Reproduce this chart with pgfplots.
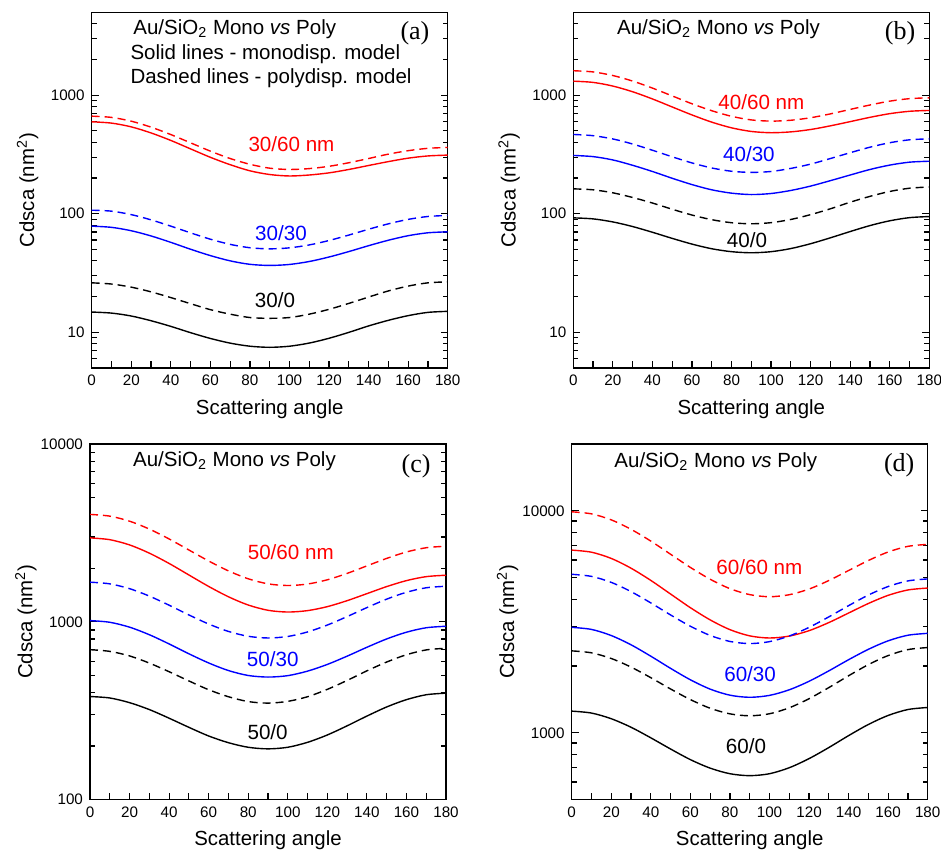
\documentclass[border=0pt]{standalone}
\usepackage{fontspec}
\setmainfont{Liberation Sans}
\newfontfamily\tnr{Liberation Serif}
\usepackage{pgfplots}
\pgfplotsset{compat=1.18}

\definecolor{cred}{RGB}{255,0,0}
\definecolor{cblue}{RGB}{0,0,255}

\pgfplotsset{
  mypanel/.style={
    scale only axis, width=178pt, height=177.8pt,
    anchor=north west,
    xmin=0, xmax=180, xtick={0,10,...,180},
    xticklabels={0,,20,,40,,60,,80,,100,,120,,140,,160,,180},
    xtick pos=lower, ytick pos=both, tick align=inside,
    major tick length=3.5pt, minor tick length=2.5pt,
    tick style={black, line width=0.6pt},
    axis line style={line width=0.7pt},
    ticklabel style={font=\fontsize{7.6}{9}\selectfont},
    xlabel={Scattering angle}, ylabel={Cdsca (nm\textsuperscript{2})},
    label style={font=\fontsize{10.2}{12}\selectfont},
    xlabel style={at={(axis description cs:0.5,-0.115)}, anchor=center},
    ylabel style={at={(axis description cs:-0.18,0.5)}, anchor=center},
  },
  mono/.style={line width=0.7pt, smooth},
  poly/.style={line width=0.7pt, smooth, dash pattern=on 4pt off 2.5pt},
}
\newcommand{\ttl}{Au/SiO\textsubscript{2} Mono \textit{vs} Poly}
\newcommand{\tfont}{\fontsize{10.25}{12}\selectfont}
\newcommand{\cfont}{\fontsize{10.3}{12}\selectfont}
\newcommand{\pfont}{\tnr\fontsize{13}{15}\selectfont}

\begin{document}
\begin{tikzpicture}
\useasboundingbox (0,0) rectangle (470.5pt,-425pt);

% ---- (a) ----
\begin{axis}[ymode=log, mypanel, at={(45.85pt,-6.15pt)},
  ymin=5, ymax=5000, ytick={10,100,1000}, yticklabels={10,100,1000},
  minor ytick={6,7,8,9,20,30,40,50,60,70,80,90,200,300,400,500,600,700,800,900,2000,3000,4000}]
\addplot[mono, cred] coordinates {(0,596) (10,581) (20,540) (30,480) (40,415) (50,352) (60,299) (70,259) (80,230) (90,214) (100,208) (110,212) (120,221) (130,236) (140,255) (150,275) (160,294) (170,307) (180,312)};
\addplot[poly, cred] coordinates {(0,665) (10,649) (20,603) (30,537) (40,465) (50,396) (60,337) (70,292) (80,261) (90,242) (100,236) (110,240) (120,251) (130,269) (140,292) (150,318) (160,340) (170,356) (180,362)};
\addplot[mono, cblue] coordinates {(0,78.5) (10,76.7) (20,71.8) (30,64.9) (40,57.3) (50,50.1) (60,44.3) (70,40.0) (80,37.4) (90,36.6) (100,37.3) (110,39.5) (120,43.1) (130,47.9) (140,53.7) (150,59.7) (160,65.2) (170,69.0) (180,70.3)};
\addplot[poly, cblue] coordinates {(0,107) (10,105) (20,98.2) (30,88.7) (40,78.5) (50,68.9) (60,60.9) (70,55.1) (80,51.6) (90,50.5) (100,51.5) (110,54.5) (120,59.4) (130,66.0) (140,73.9) (150,82.1) (160,89.5) (170,94.7) (180,96.6)};
\addplot[poly, black] coordinates {(0,26.1) (10,25.5) (20,24.0) (30,21.9) (40,19.6) (50,17.4) (60,15.5) (70,14.2) (80,13.3) (90,13.1) (100,13.3) (110,14.2) (120,15.6) (130,17.5) (140,19.8) (150,22.3) (160,24.5) (170,26.1) (180,26.6)};
\addplot[mono, black] coordinates {(0,14.8) (10,14.5) (20,13.7) (30,12.5) (40,11.2) (50,9.91) (60,8.86) (70,8.09) (80,7.62) (90,7.46) (100,7.62) (110,8.10) (120,8.89) (130,9.97) (140,11.3) (150,12.6) (160,13.8) (170,14.7) (180,15.0)};
\node[anchor=west, inner sep=0pt, font=\tfont] at (rel axis cs:0.116,0.952) {\ttl};
\node[anchor=west, inner sep=0pt, font=\tfont] at (rel axis cs:0.108,0.882) {Solid lines - monodisp. model};
\node[anchor=west, inner sep=0pt, font=\tfont] at (rel axis cs:0.108,0.814) {Dashed lines - polydisp. model};
\node[font=\pfont] at (rel axis cs:0.908,0.941) {(a)};
\node[cred, font=\cfont] at (axis cs:101,384) {30/60 nm};
\node[cblue, font=\cfont] at (axis cs:95.7,68) {30/30};
\node[black, font=\cfont] at (axis cs:92.7,18.6) {30/0};
\end{axis}

% ---- (b) ----
\begin{axis}[ymode=log, mypanel, at={(286.65pt,-6.15pt)},
  ymin=5, ymax=5000, ytick={10,100,1000}, yticklabels={10,100,1000},
  minor ytick={6,7,8,9,20,30,40,50,60,70,80,90,200,300,400,500,600,700,800,900,2000,3000,4000}]
\addplot[mono, cred] coordinates {(0,1312) (10,1281) (20,1193) (30,1068) (40,929) (50,795) (60,681) (70,592) (80,530) (90,494) (100,482) (110,490) (120,513) (130,551) (140,598) (150,650) (160,698) (170,731) (180,743)};
\addplot[poly, cred] coordinates {(0,1607) (10,1570) (20,1464) (30,1314) (40,1147) (50,985) (60,846) (70,739) (80,663) (90,618) (100,604) (110,614) (120,645) (130,695) (140,758) (150,826) (160,890) (170,934) (180,950)};
\addplot[poly, cblue] coordinates {(0,466) (10,455) (20,427) (30,387) (40,343) (50,302) (60,268) (70,243) (80,228) (90,223) (100,227) (110,241) (120,262) (130,292) (140,327) (150,364) (160,397) (170,420) (180,428)};
\addplot[mono, cblue] coordinates {(0,310) (10,303) (20,284) (30,256) (40,227) (50,199) (60,176) (70,159) (80,149) (90,145) (100,148) (110,157) (120,171) (130,190) (140,212) (150,236) (160,257) (170,272) (180,277)};
\addplot[poly, black] coordinates {(0,162) (10,159) (20,150) (30,137) (40,123) (50,109) (60,97.4) (70,89.0) (80,83.9) (90,82.2) (100,84.0) (110,89.4) (120,98.2) (130,110) (140,125) (150,140) (160,154) (170,164) (180,168)};
\addplot[mono, black] coordinates {(0,92.2) (10,90.4) (20,85.2) (30,77.9) (40,69.7) (50,61.9) (60,55.4) (70,50.6) (80,47.8) (90,46.8) (100,47.8) (110,50.8) (120,55.8) (130,62.6) (140,70.7) (150,79.4) (160,87.1) (170,92.6) (180,94.6)};
\node[anchor=west, inner sep=0pt, font=\tfont] at (rel axis cs:0.122,0.952) {\ttl};
\node[font=\pfont] at (rel axis cs:0.918,0.941) {(b)};
\node[cred, font=\cfont] at (axis cs:95.1,880) {40/60 nm};
\node[cblue, font=\cfont] at (axis cs:88.8,316) {40/30};
\node[black, font=\cfont] at (axis cs:87.8,59.4) {40/0};
\end{axis}

% ---- (c) ----
\begin{axis}[ymode=log, mypanel, at={(45pt,-222pt)},
  ymin=100, ymax=10000, ytick={100,1000,10000}, yticklabels={100,1000,10000},
  minor ytick={200,300,400,500,600,700,800,900,2000,3000,4000,5000,6000,7000,8000,9000}]
\addplot[poly, cred] coordinates {(0,4018) (10,3930) (20,3681) (30,3324) (40,2924) (50,2535) (60,2198) (70,1934) (80,1746) (90,1635) (100,1600) (110,1631) (120,1723) (130,1872) (140,2063) (150,2273) (160,2470) (170,2610) (180,2661)};
\addplot[mono, cred] coordinates {(0,2965) (10,2897) (20,2707) (30,2433) (40,2129) (50,1834) (60,1581) (70,1383) (80,1243) (90,1161) (100,1135) (110,1156) (120,1217) (130,1315) (140,1440) (150,1578) (160,1705) (170,1795) (180,1828)};
\addplot[poly, cblue] coordinates {(0,1671) (10,1635) (20,1536) (30,1395) (40,1240) (50,1093) (60,972) (70,883) (80,829) (90,811) (100,827) (110,877) (120,959) (130,1070) (140,1202) (150,1341) (160,1466) (170,1554) (180,1585)};
\addplot[mono, cblue] coordinates {(0,1016) (10,994) (20,933) (30,846) (40,751) (50,661) (60,587) (70,532) (80,499) (90,489) (100,498) (110,528) (120,576) (130,641) (140,719) (150,801) (160,874) (170,926) (180,944)};
\addplot[poly, black] coordinates {(0,697) (10,682) (20,643) (30,586) (40,524) (50,465) (60,415) (70,379) (80,356) (90,349) (100,357) (110,379) (120,417) (130,468) (140,530) (150,594) (160,653) (170,695) (180,710)};
\addplot[mono, black] coordinates {(0,380) (10,373) (20,351) (30,321) (40,287) (50,255) (60,228) (70,209) (80,197) (90,193) (100,197) (110,210) (120,231) (130,260) (140,295) (150,332) (160,365) (170,389) (180,397)};
\node[anchor=west, inner sep=0pt, font=\tfont] at (rel axis cs:0.12,0.953) {\ttl};
\node[font=\pfont] at (rel axis cs:0.916,0.938) {(c)};
\node[cred, font=\cfont] at (axis cs:101.5,2455) {50/60 nm};
\node[cblue, font=\cfont] at (axis cs:92.4,620) {50/30};
\node[black, font=\cfont] at (axis cs:89.8,239) {50/0};
\end{axis}

% ---- (d) ----
\begin{axis}[ymode=log, mypanel, at={(285.85pt,-222pt)},
  ymin=500, ymax=20000, ytick={1000,10000}, yticklabels={1000,10000},
  minor ytick={600,700,800,900,2000,3000,4000,5000,6000,7000,8000,9000}]
\addplot[poly, cred] coordinates {(0,9897) (10,9690) (20,9103) (30,8254) (40,7304) (50,6373) (60,5559) (70,4918) (80,4460) (90,4192) (100,4102) (110,4188) (120,4441) (130,4852) (140,5383) (150,5973) (160,6524) (170,6918) (180,7063)};
\addplot[mono, cred] coordinates {(0,6653) (10,6509) (20,6102) (30,5514) (40,4858) (50,4217) (60,3661) (70,3226) (80,2915) (90,2733) (100,2673) (110,2727) (120,2884) (130,3137) (140,3464) (150,3824) (160,4161) (170,4400) (180,4487)};
\addplot[poly, cblue] coordinates {(0,5176) (10,5065) (20,4760) (30,4325) (40,3847) (50,3395) (60,3020) (70,2745) (80,2579) (90,2523) (100,2574) (110,2729) (120,2984) (130,3328) (140,3739) (150,4173) (160,4560) (170,4834) (180,4932)};
\addplot[mono, cblue] coordinates {(0,2985) (10,2922) (20,2742) (30,2491) (40,2213) (50,1951) (60,1733) (70,1573) (80,1477) (90,1445) (100,1474) (110,1562) (120,1706) (130,1901) (140,2134) (150,2377) (160,2596) (170,2751) (180,2805)};
\addplot[poly, black] coordinates {(0,2339) (10,2292) (20,2161) (30,1977) (40,1771) (50,1575) (60,1411) (70,1290) (80,1217) (90,1193) (100,1218) (110,1296) (120,1424) (130,1598) (140,1807) (150,2028) (160,2228) (170,2370) (180,2421)};
\addplot[mono, black] coordinates {(0,1252) (10,1227) (20,1157) (30,1059) (40,949) (50,845) (60,757) (70,693) (80,654) (90,641) (100,654) (110,696) (120,765) (130,858) (140,971) (150,1090) (160,1197) (170,1273) (180,1300)};
\node[anchor=west, inner sep=0pt, font=\tfont] at (rel axis cs:0.119,0.95) {\ttl};
\node[font=\pfont] at (rel axis cs:0.92,0.941) {(d)};
\node[cred, font=\cfont] at (axis cs:94.9,5600) {60/60 nm};
\node[cblue, font=\cfont] at (axis cs:90.2,1841) {60/30};
\node[black, font=\cfont] at (axis cs:88.1,874) {60/0};
\end{axis}
\end{tikzpicture}
\end{document}
